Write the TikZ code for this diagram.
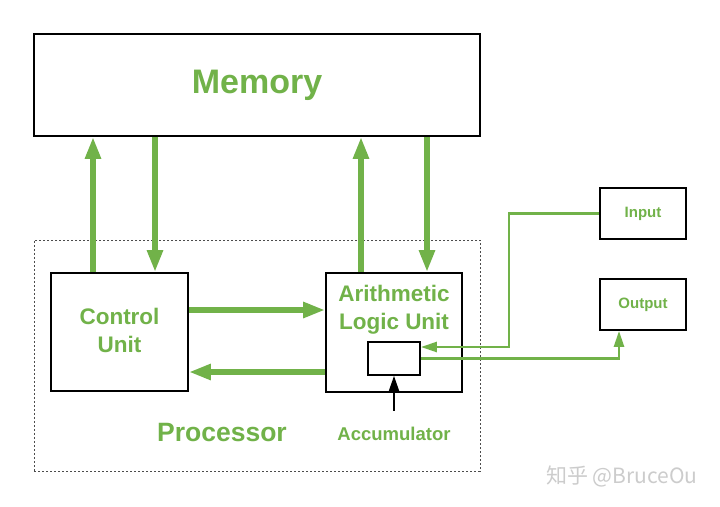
\documentclass[tikz,border=0pt]{standalone}
\usepackage{fontspec}
\setmainfont{Liberation Sans}
\newfontfamily\cjk{Noto Sans CJK SC}
\usepackage{xcolor}
\definecolor{cpugreen}{RGB}{113,178,73}
\usetikzlibrary{arrows.meta,positioning}

\begin{document}
\begin{tikzpicture}[x=1pt,y=-1pt,
  unit/.style={draw,line width=1.8pt,inner sep=0pt},
  lbl/.style={text=cpugreen,font=\bfseries,align=center,inner sep=0pt},
  bigarrow/.style={-{Triangle[width=15pt,length=22pt]},line width=6.5pt,cpugreen},
  iowire/.style={-{Triangle[width=10pt,length=16pt]},line width=2.6pt,cpugreen}]
  \useasboundingbox[fill=white] (0,0) rectangle (720,506);
  % boxes
  \node[unit,minimum width=446pt,minimum height=102pt] (mem) at (257,85) {};
  \node[draw,gray!60!black,line width=0.9pt,dash pattern=on 2.2pt off 1.8pt,
        minimum width=446pt,minimum height=231pt] (proc) at (257,355.5) {};
  \node[unit,minimum width=137pt,minimum height=118pt] (cu) at (119.5,332) {};
  \node[unit,minimum width=136pt,minimum height=119pt] (alu) at (394,332.5) {};
  \node[unit,minimum width=52pt,minimum height=33pt] (acc) at (394,358.5) {};
  \node[unit,minimum width=86pt,minimum height=51pt] (inp) at (643,213.5) {};
  \node[unit,minimum width=86pt,minimum height=51pt] (out) at (643,304.5) {};
  % labels
  \node[lbl,font=\bfseries\fontsize{34}{40}\selectfont] (memt) at (mem) {Memory};
  \node[lbl,font=\bfseries\fontsize{22.5}{28}\selectfont] (cut) at (119.5,330) {Control\\Unit};
  \node[lbl,font=\bfseries\fontsize{22.5}{28}\selectfont] (alut) at (394,310) {Arithmetic\\Logic Unit};
  \node[lbl,font=\bfseries\fontsize{26.5}{30}\selectfont] (proct) at (222,433) {Processor};
  \node[lbl,font=\bfseries\fontsize{18.5}{22}\selectfont] (acct) at (394,434) {Accumulator};
  \node[lbl,font=\bfseries\fontsize{15}{18}\selectfont] (inpt) at (inp) {Input};
  \node[lbl,font=\bfseries\fontsize{15}{18}\selectfont] (outt) at (out) {Output};
  % memory links
  \draw[bigarrow] ([xshift=-26.5pt]cu.north) -- ([xshift=-26.5pt]cu.north |- mem.south);
  \draw[bigarrow] ([xshift=35.5pt]cu.north |- mem.south) -- ([xshift=35.5pt]cu.north);
  \draw[bigarrow] ([xshift=-33pt]alu.north) -- ([xshift=-33pt]alu.north |- mem.south);
  \draw[bigarrow] ([xshift=33pt]alu.north |- mem.south) -- ([xshift=33pt]alu.north);
  % control unit <-> alu
  \draw[bigarrow] ([yshift=22pt]cu.east) -- ([yshift=22pt]cu.east -| alu.west);
  \draw[bigarrow] ([yshift=-39.5pt]alu.west) -- ([yshift=-39.5pt]alu.west -| cu.east);
  % i/o
  \draw[iowire] (inp.west) -- ++(-90,0) |- ([yshift=11.5pt]acc.east);
  \draw[iowire] (acc.east) -| ([xshift=-24pt]out.south);
  \draw[-{Triangle[width=10pt,length=15pt]},line width=1.6pt] ([yshift=-35pt]acc.south) -- (acc.south);
  % watermark
  \node[text=gray!40,font=\cjk\fontsize{21}{24}\selectfont,inner sep=0pt] (wm) at (622,476) {知乎 @BruceOu};
\end{tikzpicture}
\end{document}
